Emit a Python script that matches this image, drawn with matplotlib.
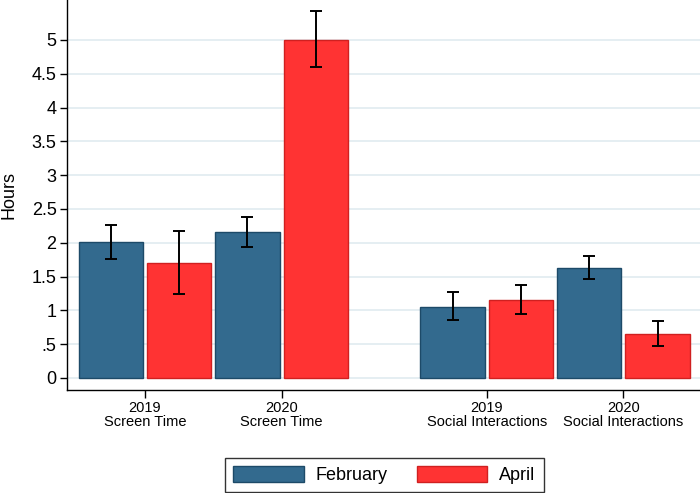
import matplotlib
matplotlib.use("Agg")
import matplotlib.pyplot as plt
from matplotlib.patches import Patch
import numpy as np

plt.rcParams['font.family'] = ['Liberation Sans', 'DejaVu Sans']

groups = ["2019\nScreen Time", "2020\nScreen Time", "2019\nSocial Interactions", "2020\nSocial Interactions"]
series = ["February", "April"]
feb_vals = [2.01, 2.16, 1.05, 1.63]
feb_lo = [1.76, 1.94, 0.85, 1.46]
feb_hi = [2.26, 2.38, 1.27, 1.81]
apr_vals = [1.70, 5.00, 1.15, 0.655]
apr_lo = [1.24, 4.60, 0.95, 0.47]
apr_hi = [2.17, 5.42, 1.37, 0.84]
yticks = [0, 0.5, 1, 1.5, 2, 2.5, 3, 3.5, 4, 4.5, 5]
yticklabels = ["0", ".5", "1", "1.5", "2", "2.5", "3", "3.5", "4", "4.5", "5"]

blue = "#336a8e"
blue_edge = "#1d4a68"
red = "#ff3333"
red_edge = "#d02020"

fig = plt.figure(figsize=(7, 4.93), dpi=100)
ax = fig.add_axes([67/700, 103/493, 1 - 67/700, 1 - 103/493])

centers = np.array([0.5, 2.5, 5.5, 7.5])
feb_x = centers - 0.5
apr_x = centers + 0.5
w = 0.94

ax.bar(feb_x, feb_vals, width=w, color=blue, edgecolor=blue_edge, linewidth=1, zorder=2)
ax.bar(apr_x, apr_vals, width=w, color=red, edgecolor=red_edge, linewidth=1, zorder=2)

fv = np.array(feb_vals); av = np.array(apr_vals)
ax.errorbar(feb_x, fv, yerr=[fv - np.array(feb_lo), np.array(feb_hi) - fv], fmt='none',
            ecolor='black', elinewidth=1.4, capsize=4.5, capthick=1.4, zorder=3)
ax.errorbar(apr_x, av, yerr=[av - np.array(apr_lo), np.array(apr_hi) - av], fmt='none',
            ecolor='black', elinewidth=1.4, capsize=4.5, capthick=1.4, zorder=3)

ax.set_xlim(-0.64, 8.62)
ax.set_ylim(-0.178, 5.59)
ax.set_yticks(yticks)
ax.set_yticklabels(yticklabels, fontsize=13)
ax.set_xticks(centers)
ax.set_xticklabels(groups, fontsize=10.5, linespacing=0.95)
ax.tick_params(axis='y', length=5, width=1, pad=2.5)
ax.tick_params(axis='x', length=6, width=1, pad=2)
ax.set_ylabel("Hours", fontsize=13, labelpad=10)

ax.yaxis.grid(True, color="#e3edf1", linewidth=1.3, zorder=0)
ax.set_axisbelow(True)
for s in ['top', 'right']:
    ax.spines[s].set_visible(False)
for s in ['left', 'bottom']:
    ax.spines[s].set_linewidth(1.0)

handles = [Patch(facecolor=blue, edgecolor=blue_edge, label=series[0]),
           Patch(facecolor=red, edgecolor=red_edge, label=series[1])]
leg = fig.legend(handles=handles, loc='center', bbox_to_anchor=(384.5/700, 1 - 475/493),
                 ncol=2, fontsize=13, frameon=True, fancybox=False, edgecolor='black',
                 handlelength=3.9, handleheight=1.0, handletextpad=0.67, columnspacing=1.6,
                 borderpad=0.45)
leg.get_frame().set_linewidth(1.0)

fig.savefig("out.png", dpi=100)
